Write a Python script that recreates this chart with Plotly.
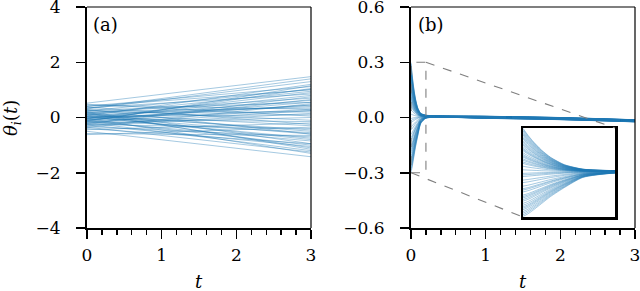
import plotly.graph_objects as go

# ---------------- data ----------------
# panel (a): straight trajectories, value at t=0 and at t=3
theta_a_start = [0.52, 0.45, 0.41, 0.38, 0.35, 0.31, 0.29, 0.26, 0.24, 0.21,
                 0.19, 0.17, 0.14, 0.12, 0.10, 0.08, 0.06, 0.04, 0.02, 0.01,
                 -0.01, -0.03, -0.05, -0.06, -0.08, -0.10, -0.12, -0.14, -0.16, -0.18,
                 -0.20, -0.22, -0.25, -0.27, -0.30, -0.33, -0.36, -0.40, -0.44, -0.50,
                 -0.58, 0.33, 0.15, -0.02, -0.11, 0.22, 0.05, -0.21, 0.40, -0.35,
                 0.27, -0.09, 0.11, -0.15, 0.03, -0.26, 0.18, -0.04, 0.48, -0.62]
theta_a_end = [1.48, 0.30, 1.12, -0.25, 0.85, 1.30, -0.60, 0.55, 1.02, -0.95,
               0.20, 0.70, -1.10, 0.95, 0.40, -0.45, 1.20, 0.10, -0.75, 0.62,
               0.25, -1.30, 0.80, -0.15, 0.45, -0.55, 1.05, -0.85, 0.30, -1.20,
               0.00, 0.65, -0.40, -1.05, 0.15, -0.70, 0.50, -0.95, -0.20, -1.42,
               -0.65, 1.40, -0.30, 0.90, -1.00, 0.35, -0.60, 0.75, 1.00, -1.25,
               -0.10, 0.55, -0.50, 1.15, -0.80, 0.25, -1.15, 0.45, 0.05, -0.35]
t_a = [0, 3]

# panel (b): sample times, initial values, remaining fraction of the spread
# (upper and lower half of the fan read separately) and the centre of the bundle
t_b = [0, 0.01, 0.02, 0.04, 0.06, 0.09, 0.13, 0.2, 1.0, 2.0, 3.0]
theta_b0 = [0.298, 0.291, 0.281, 0.271, 0.262, 0.253, 0.243, 0.233, 0.225, 0.214,
            0.204, 0.194, 0.186, 0.174, 0.163, 0.155, 0.147, 0.133, 0.121, 0.112,
            0.104, 0.092, 0.083, 0.071, 0.061, 0.042, 0.018, -0.006, -0.016, -0.027,
            -0.051, -0.068, -0.092, -0.109, -0.118, -0.131, -0.152, -0.162, -0.171, -0.182,
            -0.193, -0.208, -0.221, -0.232, -0.241, -0.251, -0.263, -0.274, -0.285, -0.296]
frac_upper = [1.0, 0.85, 0.72, 0.50, 0.33, 0.16, 0.06, 0.025, 0.02, 0.02, 0.02]
frac_lower = [1.0, 0.95, 0.88, 0.72, 0.56, 0.36, 0.13, 0.030, 0.02, 0.02, 0.02]
centre_b = [0.0, 0.001, 0.002, 0.003, 0.004, 0.005, 0.005, 0.005, 0.001, -0.006, -0.018]

a_yticks = [-4, -2, 0, 2, 4]
b_yticks = [-0.6, -0.3, 0.0, 0.3, 0.6]
x_ticks = [0, 1, 2, 3]

# ---------------- layout geometry ----------------
W, H = 640, 291
xa_dom = [87 / W, 311 / W]
xb_dom = [411 / W, 635 / W]
y_dom = [1 - 228 / H, 1 - 7 / H]
xi_dom = [523 / W, 615 / W]
yi_dom = [1 - 217 / H, 1 - 128 / H]

BLUE = '#1f77b4'
FONT = 'DejaVu Serif'

fig = go.Figure()

for s, e in zip(theta_a_start, theta_a_end):
    fig.add_trace(go.Scatter(x=t_a, y=[s, e], mode='lines',
                             line=dict(color=BLUE, width=0.8), opacity=0.5,
                             xaxis='x', yaxis='y', showlegend=False, hoverinfo='skip'))

for v in theta_b0:
    fr = frac_upper if v >= 0 else frac_lower
    yv = [c + v * f for c, f in zip(centre_b, fr)]
    fig.add_trace(go.Scatter(x=t_b, y=yv, mode='lines',
                             line=dict(color=BLUE, width=0.8, shape='spline', smoothing=0.6),
                             opacity=0.5, xaxis='x2', yaxis='y2', showlegend=False,
                             hoverinfo='skip'))
    fig.add_trace(go.Scatter(x=t_b, y=yv, mode='lines',
                             line=dict(color=BLUE, width=0.8, shape='spline', smoothing=0.6),
                             opacity=0.5, xaxis='x3', yaxis='y3', showlegend=False,
                             hoverinfo='skip'))

tickfont = dict(family=FONT, size=17, color='black')
common_x = dict(range=[0, 3], tickvals=x_ticks, ticks='outside', ticklen=9, tickwidth=1.5,
                tickcolor='black', showline=True, linewidth=2, linecolor='black',
                showgrid=False, zeroline=False, tickfont=tickfont, automargin=False,
                ticklabeloverflow='allow', ticklabelstandoff=2,
                minor=dict(dtick=0.2, ticks='outside', ticklen=5, tickwidth=1.3,
                           tickcolor='black', showgrid=False))
common_y = dict(ticks='outside', ticklen=9, tickwidth=1.5, tickcolor='black',
                showline=True, linewidth=2, linecolor='black', showgrid=False,
                zeroline=False, tickfont=tickfont, ticklabelstandoff=12,
                automargin=False, ticklabeloverflow='allow')
inset_ax = dict(showticklabels=False, ticks='', showgrid=False, zeroline=False,
                showline=True, mirror=True, linewidth=2.5, linecolor='black',
                automargin=False)

fig.update_layout(
    width=W, height=H, margin=dict(l=0, r=0, t=0, b=0, autoexpand=False),
    paper_bgcolor='white', plot_bgcolor='white', showlegend=False,
    xaxis=dict(domain=xa_dom, anchor='y', **common_x),
    yaxis=dict(domain=y_dom, anchor='x', range=[-4, 4], tickvals=a_yticks, **common_y),
    xaxis2=dict(domain=xb_dom, anchor='y2', **common_x),
    yaxis2=dict(domain=y_dom, anchor='x2', range=[-0.6, 0.6], tickvals=b_yticks,
                tickformat='.1f', **common_y),
    xaxis3=dict(domain=xi_dom, anchor='y3', range=[0, 0.2], **inset_ax),
    yaxis3=dict(domain=yi_dom, anchor='x3', range=[-0.3, 0.3], **inset_ax),
)

shapes = []
# thin top/right frame lines
for dom in (xa_dom, xb_dom):
    shapes.append(dict(type='line', xref='paper', yref='paper', x0=dom[0], x1=dom[1],
                       y0=y_dom[1], y1=y_dom[1], line=dict(color='black', width=1.2)))
    shapes.append(dict(type='line', xref='paper', yref='paper', x0=dom[1], x1=dom[1],
                       y0=y_dom[0], y1=y_dom[1], line=dict(color='black', width=1.2)))

# zoom rectangle and connectors in panel (b) data coordinates
def to_b(px, py):
    xd = (px - xb_dom[0]) / (xb_dom[1] - xb_dom[0]) * 3
    yd = -0.6 + (py - y_dom[0]) / (y_dom[1] - y_dom[0]) * 1.2
    return xd, yd

dash = dict(color='#7f7f7f', width=1.1, dash='dash')
shapes.append(dict(type='rect', xref='x2', yref='y2', x0=0, x1=0.2, y0=-0.3, y1=0.3, line=dash))
tr = to_b(xi_dom[1], yi_dom[1])
bl = to_b(xi_dom[0], yi_dom[0])
shapes.append(dict(type='line', xref='x2', yref='y2', x0=0.2, y0=0.3, x1=tr[0], y1=tr[1], line=dash))
shapes.append(dict(type='line', xref='x2', yref='y2', x0=0, y0=-0.3, x1=bl[0], y1=bl[1], line=dash))
fig.update_layout(shapes=shapes)

lab = dict(family=FONT, size=18, color='black')
fig.add_annotation(text='(a)', xref='paper', yref='paper', x=91 / W, y=1 - 24 / H,
                   xanchor='left', yanchor='middle', showarrow=False, font=lab)
fig.add_annotation(text='(b)', xref='paper', yref='paper', x=416 / W, y=1 - 24 / H,
                   xanchor='left', yanchor='middle', showarrow=False, font=lab)
fig.add_annotation(text='<i>θ</i><sub><i>i</i></sub>(<i>t</i>)', xref='paper', yref='paper',
                   x=12 / W, y=1 - 118 / H, textangle=-90, showarrow=False,
                   xanchor='center', yanchor='middle', font=lab)
fig.add_annotation(text='<i>t</i>', xref='paper', yref='paper', x=199 / W, y=1 - 281 / H,
                   showarrow=False, xanchor='center', yanchor='middle', font=lab)
fig.add_annotation(text='<i>t</i>', xref='paper', yref='paper', x=523 / W, y=1 - 281 / H,
                   showarrow=False, xanchor='center', yanchor='middle', font=lab)

fig.write_html("out.html",
               config={'displayModeBar': False, 'staticPlot': True},
               post_script="document.body.style.margin='0';document.body.style.overflow='hidden';")
